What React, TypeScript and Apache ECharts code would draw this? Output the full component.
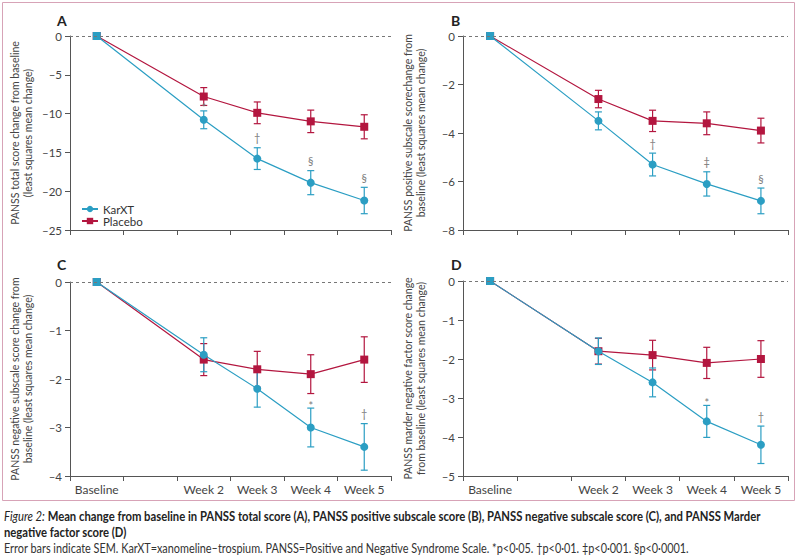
import React, { useEffect, useRef } from "react";
import * as echarts from "echarts";

// ---------- data ----------
const categories = ["Baseline", "", "Week 2", "Week 3", "Week 4", "Week 5"];
const seriesNames = ["KarXT", "Placebo"];

// Panel A – PANSS total
const karxtA = [0, null, -10.8, -15.8, -18.9, -21.2];
const karxtSemA = [0, null, 1.15, 1.4, 1.55, 1.7];
const placeboA = [0, null, -7.8, -9.9, -11.0, -11.7];
const placeboSemA = [0, null, 1.15, 1.4, 1.45, 1.55];
const sigA = ["", "", "*", "†", "§", "§"];
const yRangeA = [-25, 0, 5];

// Panel B – PANSS positive
const karxtB = [0, null, -3.5, -5.3, -6.1, -6.8];
const karxtSemB = [0, null, 0.37, 0.47, 0.5, 0.53];
const placeboB = [0, null, -2.6, -3.5, -3.6, -3.9];
const placeboSemB = [0, null, 0.36, 0.44, 0.47, 0.51];
const sigB = ["", "", "", "†", "‡", "§"];
const yRangeB = [-8, 0, 2];

// Panel C – PANSS negative
const karxtC = [0, null, -1.5, -2.2, -3.0, -3.4];
const karxtSemC = [0, null, 0.35, 0.38, 0.4, 0.48];
const placeboC = [0, null, -1.6, -1.8, -1.9, -1.6];
const placeboSemC = [0, null, 0.33, 0.37, 0.4, 0.47];
const sigC = ["", "", "", "", "*", "†"];
const yRangeC = [-4, 0, 1];

// Panel D – PANSS Marder negative factor
const karxtD = [0, null, -1.8, -2.6, -3.6, -4.2];
const karxtSemD = [0, null, 0.34, 0.37, 0.41, 0.48];
const placeboD = [0, null, -1.8, -1.9, -2.1, -2.0];
const placeboSemD = [0, null, 0.33, 0.38, 0.4, 0.47];
const sigD = ["", "", "", "", "*", "†"];
const yRangeD = [-5, 0, 1];

const panelLetters = ["A", "B", "C", "D"];
const yNames = [
  "PANSS total score change from baseline\n(least squares mean change)",
  "PANSS positive subscale scorechange from\nbaseline (least squares mean change)",
  "PANSS negative subscale score change from\nbaseline (least squares mean change)",
  "PANSS marder negative factor score change\nfrom baseline (least squares mean change)",
];

const captionTitleItalic = "Figure 2:";
const captionTitle1 =
  " Mean change from baseline in PANSS total score (A), PANSS positive subscale score (B), PANSS negative subscale score (C), and PANSS Marder";
const captionTitle2 = "negative factor score (D)";
const captionNote =
  "Error bars indicate SEM. KarXT=xanomeline–trospium. PANSS=Positive and Negative Syndrome Scale. *p<0·05. †p<0·01. ‡p<0·001. §p<0·0001.";

// ---------- styling ----------
const KAR = "#2b9ec3";
const PLA = "#b3163f";
const AXIS = "#555";
const SIG = "#7a7a7a";
const FONT = "Lato";

const panels = [
  { kar: karxtA, karSem: karxtSemA, pla: placeboA, plaSem: placeboSemA, sig: sigA, yr: yRangeA },
  { kar: karxtB, karSem: karxtSemB, pla: placeboB, plaSem: placeboSemB, sig: sigB, yr: yRangeB },
  { kar: karxtC, karSem: karxtSemC, pla: placeboC, plaSem: placeboSemC, sig: sigC, yr: yRangeC },
  { kar: karxtD, karSem: karxtSemD, pla: placeboD, plaSem: placeboSemD, sig: sigD, yr: yRangeD },
];

const grids = [
  { left: 70, top: 36, width: 321, height: 194 },
  { left: 463, top: 36, width: 325, height: 194 },
  { left: 70, top: 282, width: 321, height: 194 },
  { left: 463, top: 281, width: 325, height: 195 },
];

const letterPos = [
  [57, 20],
  [451, 20],
  [57, 264],
  [451, 264],
];

function errData(vals: (number | null)[], sems: (number | null)[]) {
  const data: number[][] = [];
  vals.forEach((v, i) => {
    const s = sems[i];
    if (v !== null && s !== null && s > 0) data.push([i, v + s, v - s]);
  });
  return data;
}

function errSeries(vals: (number | null)[], sems: (number | null)[], color: string, k: number, z: number) {
  return {
    type: "custom",
    xAxisIndex: k,
    yAxisIndex: k,
    z,
    silent: true,
    itemStyle: { color },
    data: errData(vals, sems),
    renderItem: (params: any, api: any) => {
      const i = api.value(0);
      const top = api.coord([i, api.value(1)]);
      const bot = api.coord([i, api.value(2)]);
      const cw = 3.5;
      const st = { stroke: color, lineWidth: 1.2 };
      return {
        type: "group",
        children: [
          { type: "line", shape: { x1: top[0], y1: top[1], x2: bot[0], y2: bot[1] }, style: st },
          { type: "line", shape: { x1: top[0] - cw, y1: top[1], x2: top[0] + cw, y2: top[1] }, style: st },
          { type: "line", shape: { x1: bot[0] - cw, y1: bot[1], x2: bot[0] + cw, y2: bot[1] }, style: st },
        ],
      };
    },
  };
}

function sigSeries(vals: (number | null)[], sems: (number | null)[], sigs: string[], k: number) {
  return {
    type: "custom",
    xAxisIndex: k,
    yAxisIndex: k,
    z: 6,
    silent: true,
    itemStyle: { color: SIG },
    data: errData(vals, sems),
    renderItem: (params: any, api: any) => {
      const i = api.value(0);
      const t = sigs[i];
      if (!t) return { type: "group", children: [] };
      const top = api.coord([i, api.value(1)]);
      return {
        type: "text",
        x: top[0],
        y: t === "*" ? top[1] - 3 : top[1] - 10,
        style: {
          text: t,
          fill: SIG,
          fontSize: 11,
          fontFamily: FONT,
          align: "center",
          verticalAlign: "middle",
        },
      };
    },
  };
}

function measure(text: string, font: string) {
  const c = document.createElement("canvas");
  const ctx = c.getContext("2d")!;
  ctx.font = font;
  return ctx.measureText(text).width;
}

function buildOption() {
  const xAxis: any[] = [];
  const yAxis: any[] = [];
  const series: any[] = [];

  panels.forEach((p, k) => {
    const bottomRow = k >= 2;
    xAxis.push({
      type: "category",
      gridIndex: k,
      data: categories,
      boundaryGap: true,
      axisLine: { show: true, onZero: false, lineStyle: { color: AXIS, width: 1 } },
      axisTick: { show: true, interval: 0, length: 5, lineStyle: { color: AXIS } },
      axisLabel: { show: bottomRow, interval: 0, color: "#444", fontSize: 12, fontFamily: FONT, margin: 7 },
      splitLine: { show: false },
    });
    yAxis.push({
      type: "value",
      gridIndex: k,
      min: p.yr[0],
      max: p.yr[1],
      interval: p.yr[2],
      axisLine: { show: true, onZero: false, lineStyle: { color: AXIS, width: 1 } },
      axisTick: { show: true, length: 5, lineStyle: { color: AXIS } },
      axisLabel: {
        color: "#444",
        fontSize: 11.5,
        fontFamily: FONT,
        margin: 8,
        formatter: (v: number) => (v < 0 ? "–" + Math.abs(v) : String(v)),
      },
      splitLine: { show: false },
      name: yNames[k],
      nameLocation: "middle",
      nameRotate: 90,
      nameGap: 36,
      nameTextStyle: { fontSize: 10.5, color: "#444", fontFamily: FONT, lineHeight: 13 },
    });

    series.push(errSeries(p.pla, p.plaSem, PLA, k, 2));
    series.push(errSeries(p.kar, p.karSem, KAR, k, 2));
    series.push(sigSeries(p.kar, p.karSem, p.sig, k));
    series.push({
      name: seriesNames[1],
      type: "line",
      xAxisIndex: k,
      yAxisIndex: k,
      data: p.pla,
      connectNulls: true,
      symbol: "rect",
      symbolSize: 8,
      z: 3,
      lineStyle: { color: PLA, width: 1.2 },
      itemStyle: { color: PLA },
      markLine: {
        silent: true,
        symbol: "none",
        label: { show: false },
        lineStyle: { color: "#777", width: 1, type: [3, 3] },
        data: [{ yAxis: 0 }],
      },
    });
    series.push({
      name: seriesNames[0],
      type: "line",
      xAxisIndex: k,
      yAxisIndex: k,
      data: p.kar.map((v, i) => (i === 0 ? { value: v, symbol: "rect" } : v)),
      connectNulls: true,
      symbol: "circle",
      symbolSize: 8,
      z: 4,
      lineStyle: { color: KAR, width: 1.2 },
      itemStyle: { color: KAR },
    });
  });

  // caption sizing
  const boldFont = `bold 12.5px ${FONT}`;
  const italFont = `italic 12.5px ${FONT}`;
  const w1 = measure(captionTitleItalic, italFont) + measure(captionTitle1, boldFont);
  const sTitle = w1 > 0 ? 757 / w1 : 0.82;
  const wNote = measure(captionNote, `12.5px ${FONT}`);
  const sNote = wNote > 0 ? 686 / wNote : 0.9;

  const graphic: any[] = [
    {
      type: "rect",
      shape: { x: 2.5, y: 2.5, width: 792, height: 498 },
      style: { fill: "none", stroke: "#d7a3b7", lineWidth: 1 },
      silent: true,
    },
    ...panelLetters.map((l, k) => ({
      type: "text",
      x: letterPos[k][0],
      y: letterPos[k][1],
      style: { text: l, font: `bold 14px ${FONT}`, fill: "#222", verticalAlign: "middle" },
    })),
    {
      type: "text",
      x: 4,
      y: 516,
      scaleX: sTitle,
      style: {
        text: `{i|${captionTitleItalic}}{b|${captionTitle1}}`,
        verticalAlign: "middle",
        rich: {
          i: { fontStyle: "italic", fontSize: 12.5, fontFamily: FONT, fill: "#222" },
          b: { fontWeight: "bold", fontSize: 12.5, fontFamily: FONT, fill: "#222" },
        },
      },
    },
    {
      type: "text",
      x: 4,
      y: 532,
      scaleX: sTitle,
      style: { text: captionTitle2, font: boldFont, fill: "#222", verticalAlign: "middle" },
    },
    {
      type: "text",
      x: 4,
      y: 548,
      scaleX: sNote,
      style: { text: captionNote, font: `12.5px ${FONT}`, fill: "#333", verticalAlign: "middle" },
    },
  ];

  return {
    animation: false,
    backgroundColor: "#fff",
    textStyle: { fontFamily: FONT },
    grid: grids.map((g) => ({ ...g, containLabel: false })),
    xAxis,
    yAxis,
    legend: {
      data: seriesNames,
      orient: "vertical",
      left: 76,
      top: 198,
      itemWidth: 16,
      itemHeight: 8,
      itemGap: 0,
      textStyle: { fontSize: 11.5, color: "#333", fontFamily: FONT },
      selectedMode: false,
    },
    series,
    graphic,
  };
}

export default function App() {
  const ref = useRef<HTMLDivElement>(null);
  useEffect(() => {
    const chart = echarts.init(ref.current!, null, { renderer: "svg" });
    chart.setOption(buildOption() as any);
    return () => chart.dispose();
  }, []);
  return <div ref={ref} style={{ position: "absolute", left: 0, top: 0, width: 800, height: 560 }} />;
}
